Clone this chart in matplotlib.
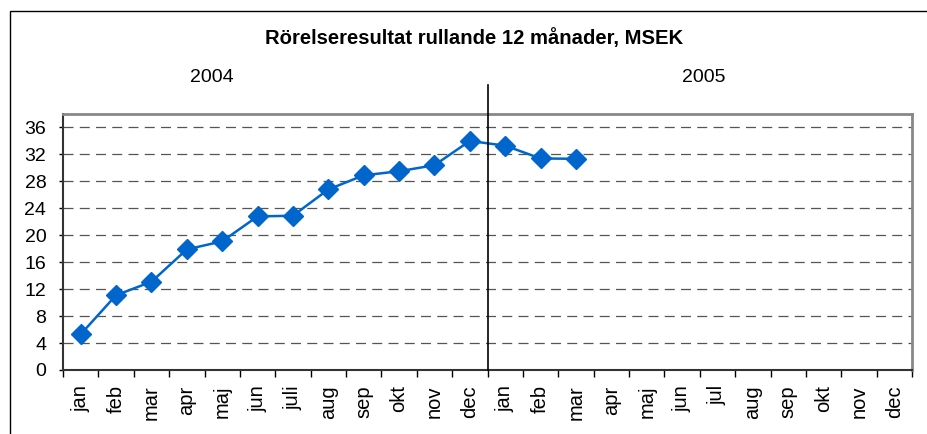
import matplotlib
matplotlib.use("Agg")
import matplotlib.pyplot as plt
from matplotlib.patches import Rectangle
import matplotlib.transforms as mtransforms
import numpy as np

plt.rcParams['font.family'] = ['Liberation Sans', 'DejaVu Sans']

title = "Rörelseresultat rullande 12 månader, MSEK"
months_2004 = ["jan", "feb", "mar", "apr", "maj", "jun", "juli", "aug", "sep", "okt", "nov", "dec"]
months_2005 = ["jan", "feb", "mar", "apr", "maj", "jun", "jul", "aug", "sep", "okt", "nov", "dec"]
values = [5.3, 11.1, 13.1, 17.9, 19.1, 22.8, 22.9, 26.8, 28.9, 29.5, 30.4, 34.0,
          33.3, 31.4, 31.35]
year_labels = ["2004", "2005"]
yticks = list(range(0, 37, 4))

labels = months_2004 + months_2005
n = len(labels)

fig = plt.figure(figsize=(9.27, 4.34), dpi=100)
fig.patch.set_facecolor("white")

# outer chart border (cut off at right/bottom)
fig.patches.append(Rectangle((10/927, -0.05), 1.2, 1 - 11/434 + 0.05,
                             transform=fig.transFigure, fill=False,
                             edgecolor="black", linewidth=1.0))

ax = fig.add_axes([63/927, 64/434, (912-63)/927, (370-114)/434])
x = np.arange(len(values))
ax.plot(x, values, color="#0066CC", linewidth=1.8, marker="D",
        markersize=10, markerfacecolor="#0066CC", markeredgecolor="#0066CC",
        zorder=5, clip_on=False)

ax.set_xlim(-0.5, n - 0.5)
ax.set_ylim(0, 38)
ax.set_yticks(yticks)
ax.set_yticklabels([str(t) for t in yticks], fontsize=14)
ax.yaxis.grid(True, linestyle=(0, (8, 5)), color="#555555", linewidth=0.9)
ax.set_axisbelow(True)

ax.set_xticks(np.arange(n))
ax.set_xticklabels(labels, rotation=90, fontsize=14.5, va="top", ha="center")
ax.set_xticks(np.arange(-0.5, n, 1.0), minor=True)
ax.tick_params(axis="x", which="major", length=0, pad=11)
ax.tick_params(axis="x", which="minor", length=5, width=1.0, direction="out")
ax.tick_params(axis="y", length=3, width=1.0, pad=9)

for s in ["top", "right"]:
    ax.spines[s].set_color("#888888")
    ax.spines[s].set_linewidth(2.0)
ax.spines["left"].set_color("#333333")
ax.spines["left"].set_linewidth(1.5)
ax.spines["bottom"].set_color("#333333")
ax.spines["bottom"].set_linewidth(1.5)

# year separator
ax.axvline(11.5, ymin=0, ymax=(370-85)/256, color="black", linewidth=1.2,
           clip_on=False, zorder=6)

blend = mtransforms.blended_transform_factory(ax.transData, fig.transFigure)
ax.text(3.7, 1 - 77/434, year_labels[0], fontsize=14, ha="center", va="center",
        transform=blend)
ax.text(17.6, 1 - 77/434, year_labels[1], fontsize=14, ha="center", va="center",
        transform=blend)

fig.text(474/927, 1 - 38/434, title, fontsize=14.6, fontweight="bold",
         ha="center", va="center")

fig.savefig("out.png", dpi=100)
